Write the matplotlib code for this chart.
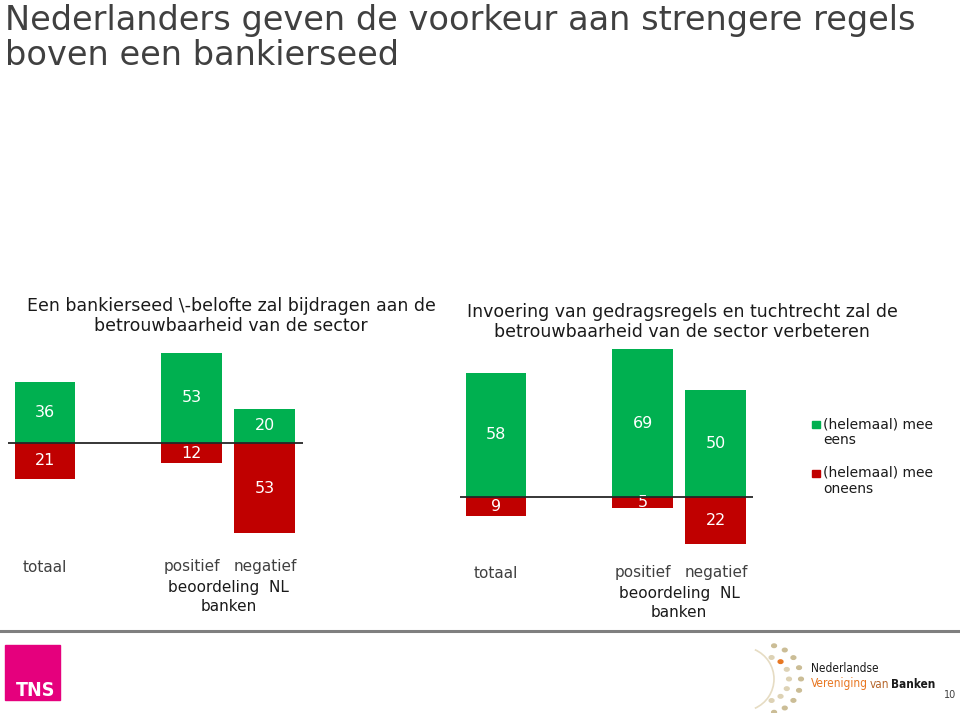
import numpy as np
import matplotlib.pyplot as plt
from matplotlib.patches import Rectangle, Circle, Arc
from matplotlib.lines import Line2D
import matplotlib.transforms as mtransforms

plt.rcParams['font.family'] = ['DejaVu Sans']

W, H = 960, 713

# data
cats = ['totaal', 'positief', 'negatief']
eed_eens = [36, 53, 20]
eed_oneens = [21, 12, 53]
regels_eens = [58, 69, 50]
regels_oneens = [9, 5, 22]

groen = '#00B050'
rood = '#C00000'
tekst = '#404040'

fig = plt.figure(figsize=(W / 100, H / 100), dpi=100)


def fx(x):
    return x / W


def fy(y):
    return 1 - y / H


def make_axes(left, right, top, bottom, base, scale, x0):
    # pixel box -> axes; base = pixel y of zero line, scale = px per unit
    ax = fig.add_axes([fx(left), fy(bottom), (right - left) / W, (bottom - top) / H])
    ax.set_ylim(-(bottom - base) / scale, (base - top) / scale)
    unit = 73.3
    ax.set_xlim((left - x0) / unit, (right - x0) / unit)
    ax.axis('off')
    return ax


pos = np.array([0, 2, 3])

ax1 = make_axes(8, 303, 340, 548, 443, 1.7, 45)
ax2 = make_axes(460, 753, 340, 552, 497, 2.14, 496)

for ax, eens, oneens, lab_y in [(ax1, eed_eens, eed_oneens, 567),
                                 (ax2, regels_eens, regels_oneens, 573)]:
    b1 = ax.bar(pos, eens, width=0.83, color=groen)
    b2 = ax.bar(pos, -np.array(oneens), width=0.83, color=rood)
    ax.bar_label(b1, labels=[str(v) for v in eens], label_type='center',
                 color='white', fontsize=11.5)
    ax.bar_label(b2, labels=[str(v) for v in oneens], label_type='center',
                 color='white', fontsize=11.5)
    ax.axhline(0, color='#262626', lw=1.3, zorder=5)
    tr = mtransforms.blended_transform_factory(ax.transData, fig.transFigure)
    for p, c in zip(pos, cats):
        ax.text(p, fy(lab_y), c, transform=tr, ha='center', va='center',
                fontsize=11, color=tekst)
    ax.text(pos[1:].mean(), fy(lab_y + 13), 'beoordeling  NL\nbanken',
            transform=tr, ha='center', va='top', fontsize=11, color='#1a1a1a',
            linespacing=1.3)

# titles
fig.text(fx(5), fy(4), 'Nederlanders geven de voorkeur aan strengere regels\nboven een bankierseed',
         ha='left', va='top', fontsize=24.2, color=tekst, linespacing=1.08)
fig.text(fx(231), fy(316), 'Een bankierseed \\-belofte zal bijdragen aan de\nbetrouwbaarheid van de sector',
         ha='center', va='center', fontsize=12.5, color='#1a1a1a', linespacing=1.1)
fig.text(fx(682), fy(322), 'Invoering van gedragsregels en tuchtrecht zal de\nbetrouwbaarheid van de sector verbeteren',
         ha='center', va='center', fontsize=12.5, color='#1a1a1a', linespacing=1.1)

# legend
for y, c, lab in [(424, groen, '(helemaal) mee\neens'), (473, rood, '(helemaal) mee\noneens')]:
    fig.patches.append(Rectangle((fx(812), fy(y + 4)), 7.5 / W, 7.5 / H, color=c,
                                 transform=fig.transFigure))
    fig.text(fx(823), fy(y - 7), lab, ha='left', va='top', fontsize=10,
             color='#1a1a1a', linespacing=1.2)

# footer
fig.lines.append(Line2D([0, 1], [fy(631), fy(631)], color='#7f7f7f', lw=2.2,
                        transform=fig.transFigure))
fig.patches.append(Rectangle((fx(5), fy(700)), 55 / W, 55 / H, color='#E5007D',
                             transform=fig.transFigure))
fig.text(fx(16), fy(690), 'TNS', ha='left', va='center', fontsize=14,
         fontweight='bold', fontstretch='condensed', color='white')

# NVB logo: arc of dots
fig.patches.append(Arc((fx(742), fy(679)), 2 * 32 / W, 2 * 32 / H, theta1=-72, theta2=72,
                       color='#e6dcc3', lw=1.2, transform=fig.transFigure))
for r, n, col in [(22, 7, '#ddd2b5'), (34, 9, '#cbbd96')]:
    ang = np.linspace(-78, 78, n)
    for i, a in enumerate(ang):
        x = 767 + r * np.cos(np.radians(a))
        y = 679 - r * np.sin(np.radians(a))
        cc = '#E87722' if (r == 22 and i == 5) else col
        fig.patches.append(Circle((fx(x), fy(y)), 2.4 / W, color=cc,
                                  transform=fig.transFigure))

fig.text(fx(811), fy(668), 'Nederlandse', ha='left', va='center', fontsize=8.5,
         fontstretch='condensed', color='#1a1a1a')
renderer = fig.canvas.get_renderer()
x = 811
for word, col, wt in [('Vereniging', '#E87722', 'normal'), ('van', '#B5652A', 'normal'),
                      ('Banken', '#1a1a1a', 'bold')]:
    t = fig.text(fx(x), fy(684), word, ha='left', va='center', fontsize=8.5,
                 fontstretch='condensed', fontweight=wt, color=col)
    x += t.get_window_extent(renderer).width + 2
fig.text(fx(950), fy(695), '10', ha='center', va='center', fontsize=7, color=tekst)

fig.savefig('out.png', dpi=100)
